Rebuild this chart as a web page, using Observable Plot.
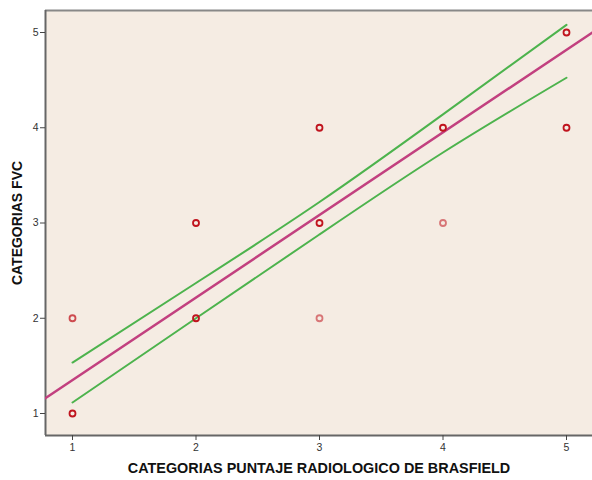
<!DOCTYPE html>
<html>
<head>
<meta charset="utf-8">
<script src="https://cdn.jsdelivr.net/npm/d3@7"></script>
<script src="https://cdn.jsdelivr.net/npm/@observablehq/plot@0.6"></script>
<style>
  html, body { margin: 0; padding: 0; background: #ffffff; }
  #chart { width: 592px; height: 480px; }
</style>
</head>
<body>
<div id="chart"></div>
<script>
// Observed points (x = Brasfield score category, y = FVC category)
const pointX = [1, 1, 2, 2, 3, 3, 3, 4, 4, 5, 5];
const pointY = [1, 2, 3, 2, 4, 3, 2, 4, 3, 5, 4];
// darker = more overlapping cases
const pointShade = [1, 0.75, 1, 1, 1, 1, 0.55, 1, 0.55, 1, 1];

// Fit line (read at the plot edges)
const fitX = [0.78, 5.21];
const fitY = [1.16, 5.0];

// Confidence band (read at each category)
const bandX = [1, 2, 3, 4, 5];
const bandUpper = [1.535, 2.37, 3.22, 4.14, 5.08];
const bandLower = [1.115, 2.0, 2.88, 3.74, 4.525];

const xTicks = [1, 2, 3, 4, 5];
const yTicks = [1, 2, 3, 4, 5];
const xTitle = "CATEGORIAS PUNTAJE RADIOLOGICO DE BRASFIELD";
const yTitle = "CATEGORIAS FVC";

const points = pointX.map((x, i) => ({x, y: pointY[i], o: pointShade[i]}));
const fit = fitX.map((x, i) => ({x, y: fitY[i]}));
const upper = bandX.map((x, i) => ({x, y: bandUpper[i]}));
const lower = bandX.map((x, i) => ({x, y: bandLower[i]}));

const xDomain = [1 - 27 / 123.5, 1 + 520 / 123.5];
const yDomain = [1 - 22 / 95.25, 5 + 22 / 95.25];

const chart = Plot.plot({
  width: 592,
  height: 480,
  marginLeft: 45,
  marginRight: 0,
  marginTop: 10,
  marginBottom: 45,
  style: {fontFamily: "'Liberation Sans', Arial, sans-serif", background: "#ffffff", overflow: "visible"},
  x: {domain: xDomain, ticks: xTicks, label: null},
  y: {domain: yDomain, ticks: yTicks, label: null},
  marks: [
    Plot.frame({fill: "#f5ece3", stroke: "none"}),
    Plot.ruleY([yDomain[1]], {stroke: "#888888", strokeWidth: 2}),
    Plot.ruleX([xDomain[0]], {stroke: "#666666", strokeWidth: 2}),
    Plot.ruleY([yDomain[0]], {stroke: "#666666", strokeWidth: 2}),
    Plot.axisX({ticks: xTicks, tickSize: 5, tickPadding: 3, fontSize: 10.5, color: "#333", stroke: "#444", tickFormat: d3.format("d")}),
    Plot.axisY({ticks: yTicks, tickSize: 5, tickPadding: 2, fontSize: 10.5, color: "#333", stroke: "#444", tickFormat: d3.format("d")}),
    Plot.line(upper, {x: "x", y: "y", stroke: "#4db34d", strokeWidth: 2, curve: "natural"}),
    Plot.line(lower, {x: "x", y: "y", stroke: "#4db34d", strokeWidth: 2, curve: "natural"}),
    Plot.line(fit, {x: "x", y: "y", stroke: "#c2407f", strokeWidth: 2.5, clip: true}),
    Plot.dot(points, {x: "x", y: "y", r: 3, stroke: "#c0141e", strokeWidth: 1.8, fill: "none", strokeOpacity: "o"}),
    Plot.text([xTitle], {frameAnchor: "bottom", dy: 37, fontSize: 14.4, fontWeight: "bold", fill: "#111"}),
    Plot.text([yTitle], {frameAnchor: "left", dx: -28, rotate: -90, textAnchor: "middle", fontSize: 14, fontWeight: "bold", fill: "#111"})
  ]
});
document.getElementById("chart").appendChild(chart);
</script>
</body>
</html>
